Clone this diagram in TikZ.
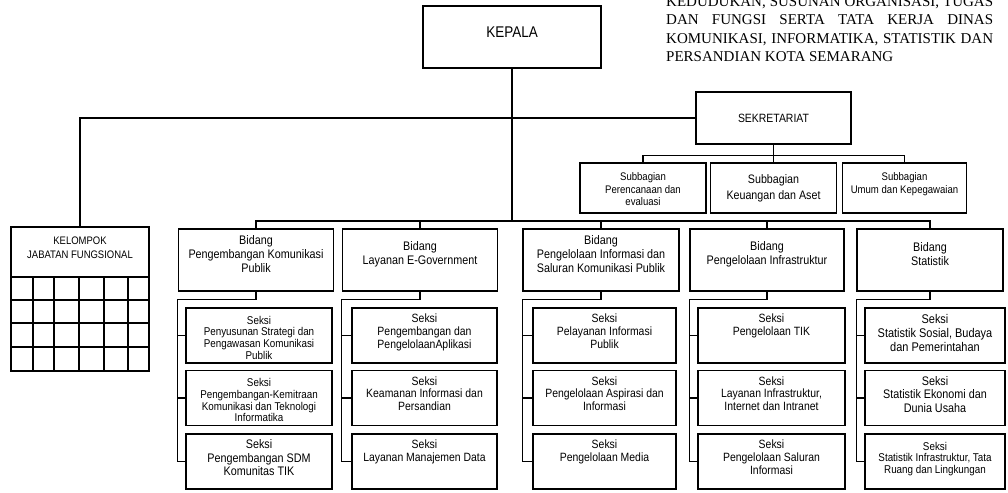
\documentclass[tikz,border=0pt]{standalone}
\usepackage{fontspec}
\setmainfont{Liberation Sans}[FakeStretch=0.87]
\newfontfamily\titlefont{Liberation Serif}
\newcommand\setfs[2]{\fontsize{#1}{#2}\selectfont}

\begin{document}
\begin{tikzpicture}[x=1pt,y=-1pt,
    box/.style={draw,line width=1.5pt,inner sep=0pt},
    conn/.style={line width=1.2pt},
    bidbox/.style={box,minimum width=155pt,minimum height=62pt},
    sbbox/.style={box,minimum height=50pt},
    sbox/.style={box,minimum height=55pt},
    btxt/.style={align=center,font=\setfs{12.4}{14}},
    stxt/.style={anchor=north,align=center,inner sep=3pt,yshift=-3.5pt,font=\setfs{12}{12.8}},
    ttl/.style={anchor=base west,inner sep=0pt,font=\titlefont\setfs{15}{18.5}}]
    \useasboundingbox (0,0) rectangle (1008,492);

    \node[ttl] (ttl1) at (666,6.5) {\makebox[327pt][s]{KEDUDUKAN, SUSUNAN ORGANISASI, TUGAS}};
    \node[ttl] (ttl2) at (666,25) {\makebox[327pt][s]{DAN FUNGSI SERTA TATA KERJA DINAS}};
    \node[ttl] (ttl3) at (666,43.5) {\makebox[327pt][s]{KOMUNIKASI, INFORMATIKA, STATISTIK DAN}};
    \node[ttl] (ttl4) at (666,62) {PERSANDIAN KOTA SEMARANG};

    \node[box,minimum width=178pt,minimum height=62pt] (kep) at (512,37) {};
    \node[font=\setfs{15.5}{16}] (kept) at ([yshift=5pt]kep.center) {KEPALA};

    \node[box,minimum width=155pt,minimum height=52pt,font=\setfs{12}{12}] (sek) at (773.5,118) {SEKRETARIAT};
    \node[sbbox,minimum width=126pt] (sb1) at (643,188) {};
    \node[sbbox,minimum width=126pt] (sb2) at (773.5,188) {};
    \node[sbbox,minimum width=124pt] (sb3) at (904.5,188) {};
    \node[stxt,font=\setfs{11}{12.5},yshift=-4pt] (sb1t) at (sb1.north) {Subbagian\\Perencanaan dan\\evaluasi};
    \node[stxt,font=\setfs{12.3}{16},yshift=-6pt] (sb2t) at (sb2.north) {Subbagian\\Keuangan dan Aset};
    \node[stxt,font=\setfs{11}{12.5},yshift=-4pt] (sb3t) at (sb3.north) {Subbagian\\Umum dan Kepegawaian};
    \coordinate (sekj) at ([yshift=-11pt]sek.south);
    \draw[conn] (sek.south) -- (sb2.north);
    \draw[conn] (sb1.north) |- (sekj) -| (sb3.north);

    \node[box,minimum width=138pt,minimum height=144pt] (kel) at (80,299) {};
    \node[stxt,font=\setfs{10.9}{14},yshift=-4pt] (kelt) at (kel.north) {KELOMPOK\\JABATAN FUNGSIONAL};
    \foreach \gy in {277,300,323,347}
        \draw[line width=1.5pt] (11,\gy) -- (149,\gy);
    \foreach \gx in {33,54,79,104,128}
        \draw[line width=1.5pt] (\gx,277) -- (\gx,371);
    \draw[conn] (kel.north) |- (sek.west);

    \node[bidbox] (bid1) at (256,260) {};
    \node[bidbox] (bid2) at (420,260) {};
    \node[bidbox,minimum width=156pt] (bid3) at (601,260) {};
    \node[bidbox,minimum width=154pt] (bid4) at (767,260) {};
    \node[bidbox,minimum width=146pt] (bid5) at (930,260) {};
    \node[btxt] (bid1t) at ([yshift=6pt]bid1.center) {Bidang\\Pengembangan Komunikasi\\Publik};
    \node[btxt] (bid2t) at ([yshift=6pt]bid2.center) {Bidang\\Layanan E-Government};
    \node[btxt] (bid3t) at ([yshift=6pt]bid3.center) {Bidang\\Pengelolaan Informasi dan\\Saluran Komunikasi Publik};
    \node[btxt] (bid4t) at ([yshift=6pt]bid4.center) {Bidang\\Pengelolaan Infrastruktur};
    \node[btxt] (bid5t) at ([yshift=6pt]bid5.center) {Bidang\\Statistik};

    \coordinate (bus) at (512,221);
    \draw[conn] (kep.south) -- (bus);
    \draw[conn] (bid1.north) |- (bus) -| (bid5.north);
    \foreach \b in {bid2,bid3,bid4}
        \draw[conn] (\b.north) -- (\b.north |- bus);

    \foreach \c/\sx/\sw in {1/259/146,2/424.5/145,3/604.5/143,4/771.5/147,5/935/140}
        \foreach \r/\sy in {1/335.5,2/398,3/461.5}
            \node[sbox,minimum width=\sw pt] (s\c\r) at (\sx,\sy) {};

    \node[stxt,font=\setfs{11.3}{11.7},yshift=-2pt] (s11t) at (s11.north) {Seksi\\Penyusunan Strategi dan\\Pengawasan Komunikasi\\Publik};
    \node[stxt,font=\setfs{11.3}{11.7},yshift=-2pt] (s12t) at (s12.north) {Seksi\\Pengembangan-Kemitraan\\Komunikasi dan Teknologi\\Informatika};
    \node[stxt,font=\setfs{12.4}{13.5}] (s13t) at (s13.north) {Seksi\\Pengembangan SDM\\Komunitas TIK};
    \node[stxt] (s21t) at (s21.north) {Seksi\\Pengembangan dan\\PengelolaanAplikasi};
    \node[stxt] (s22t) at (s22.north) {Seksi\\Keamanan Informasi dan\\Persandian};
    \node[stxt] (s23t) at (s23.north) {Seksi\\Layanan Manajemen Data};
    \node[stxt] (s31t) at (s31.north) {Seksi\\Pelayanan Informasi\\Publik};
    \node[stxt] (s32t) at (s32.north) {Seksi\\Pengelolaan Aspirasi dan\\Informasi};
    \node[stxt] (s33t) at (s33.north) {Seksi\\Pengelolaan Media};
    \node[stxt] (s41t) at (s41.north) {Seksi\\Pengelolaan TIK};
    \node[stxt] (s42t) at (s42.north) {Seksi\\Layanan Infrastruktur,\\Internet dan Intranet};
    \node[stxt] (s43t) at (s43.north) {Seksi\\Pengelolaan Saluran\\Informasi};
    \node[stxt,font=\setfs{12.6}{14}] (s51t) at (s51.north) {Seksi\\Statistik Sosial, Budaya\\dan Pemerintahan};
    \node[stxt,font=\setfs{12.4}{13.5}] (s52t) at (s52.north) {Seksi\\Statistik Ekonomi dan\\Dunia Usaha};
    \node[stxt,font=\setfs{11.3}{11.5},yshift=-2pt] (s53t) at (s53.north) {Seksi\\Statistik Infrastruktur, Tata\\Ruang dan Lingkungan};

    \foreach \c in {1,...,5}{
        \draw[conn] (bid\c.south) -- ++(0,8) -| (bid\c.west |- s\c3.west) -- (s\c3.west);
        \draw[conn] (bid\c.west |- s\c1.west) -- (s\c1.west);
        \draw[conn] (bid\c.west |- s\c2.west) -- (s\c2.west);
    }
\end{tikzpicture}
\end{document}
